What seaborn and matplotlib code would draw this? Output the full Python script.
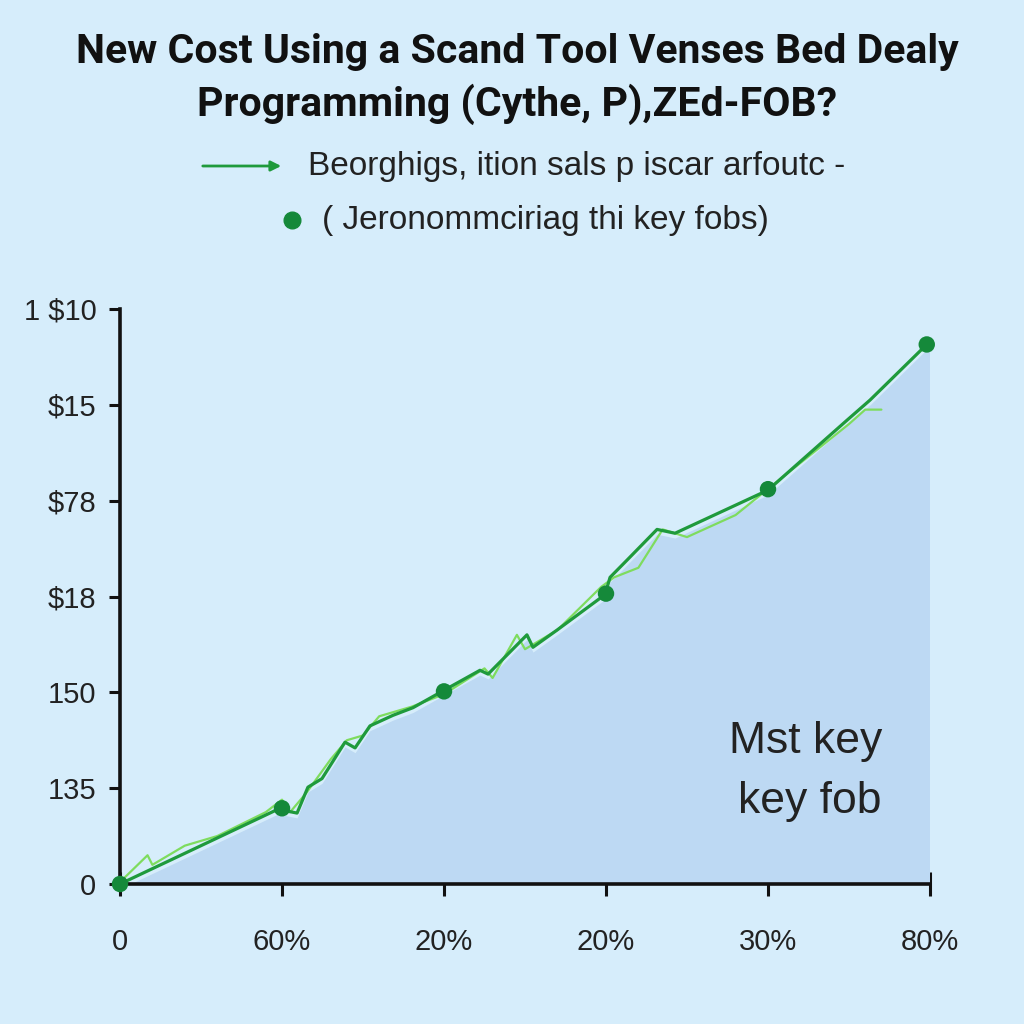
import numpy as np
import pandas as pd
import matplotlib
matplotlib.use('Agg')
import matplotlib.pyplot as plt
import seaborn as sns

# tick labels, as printed on the picture
x_labels = ['0', '60%', '20%', '20%', '30%', '80%']
y_labels = ['0', '135', '150', '$18', '$78', '$15', '1 $10']

# main cost line (in tick units)
line_x = [0.0, 0.975, 1.093, 1.16, 1.247, 1.389, 1.451, 1.543, 1.685, 1.809, 1.988,
          2.222, 2.272, 2.512, 2.549, 2.698, 2.994, 3.025, 3.13, 3.315, 3.426, 4.0,
          4.488, 4.63, 4.98]
line_y = [0.0, 0.78, 0.74, 1.01, 1.10, 1.48, 1.42, 1.65, 1.76, 1.84, 2.01,
          2.23, 2.19, 2.60, 2.47, 2.65, 3.02, 3.20, 3.38, 3.70, 3.66, 4.11,
          4.84, 5.05, 5.63]

# faint jagged trace around the main line
trace_x = [0.0, 0.17, 0.2, 0.4, 0.6, 0.9, 1.0, 1.05, 1.15, 1.3, 1.4, 1.5, 1.6, 1.8, 2.0,
           2.25, 2.3, 2.45, 2.5, 2.7, 2.97, 3.05, 3.2, 3.35, 3.5, 3.8, 4.02, 4.5, 4.6, 4.7]
trace_y = [0.02, 0.30, 0.20, 0.40, 0.50, 0.75, 0.88, 0.75, 0.95, 1.30, 1.50, 1.55, 1.75, 1.85, 1.98,
           2.25, 2.15, 2.60, 2.45, 2.65, 3.10, 3.20, 3.30, 3.70, 3.62, 3.85, 4.15, 4.80, 4.95, 4.95]

# key fob markers
key_x = [0, 1, 2, 3, 4, 4.98]
key_y = [0.0, 0.79, 2.01, 3.03, 4.12, 5.63]

title = 'New Cost Using a Scand Tool Venses Bed Dealy\nProgramming (Cythe, P),ZEd-FOB?'
legend1 = 'Beorghigs, ition sals p iscar arfoutc -'
legend2 = '( Jeronommciriag thi key fobs)'
note = ['Mst key', 'key fob']

bg = '#d6edfb'
fill_col = '#bdd9f3'
dark_green = '#1f9a3c'
dot_green = '#15893a'
light_green = '#7edc5e'

sns.set_theme(style='white')
plt.rcParams['font.family'] = ['Liberation Sans', 'DejaVu Sans']

fig = plt.figure(figsize=(10.24, 10.24), dpi=100, facecolor=bg)
ax = fig.add_axes([120/1024, 140/1024, 810/1024, 575/1024])
ax.set_facecolor(bg)

line_df = pd.DataFrame({'x': line_x, 'y': line_y})
trace_df = pd.DataFrame({'x': trace_x, 'y': trace_y})
key_df = pd.DataFrame({'x': key_x, 'y': key_y})

ax.fill_between(line_df['x'], 0, line_df['y'] - 0.05, color=fill_col, lw=0, zorder=1)
ax.fill_between([line_x[-1], 5], 0, [line_y[-1], line_y[-1]], color=fill_col, lw=0, zorder=1)
sns.lineplot(data=trace_df, x='x', y='y', ax=ax, color=light_green, lw=1.6,
             estimator=None, sort=False, zorder=2)
sns.lineplot(data=line_df, x='x', y='y', ax=ax, color=dark_green, lw=2.3,
             estimator=None, sort=False, zorder=3)
sns.scatterplot(data=key_df, x='x', y='y', ax=ax, color=dot_green, s=140,
                edgecolor='none', zorder=4, clip_on=False)

ax.set_xlim(0, 5)
ax.set_ylim(0, 6)
ax.set_xticks(range(len(x_labels)))
ax.set_xticklabels(x_labels)
ax.set_yticks(range(len(y_labels)))
ax.set_yticklabels(y_labels)
ax.set_xlabel('')
ax.set_ylabel('')
for s in ['top', 'right']:
    ax.spines[s].set_visible(False)
for s in ['left', 'bottom']:
    ax.spines[s].set_color('#111111')
    ax.spines[s].set_linewidth(2.6)
ax.tick_params(axis='x', bottom=True, direction='inout', length=17, width=2.2, color='#111111',
               labelsize=21, pad=23, labelcolor='#222222')
ax.tick_params(axis='y', left=True, direction='out', length=8, width=2.2, color='#111111',
               labelsize=21, pad=9, labelcolor='#222222')

ax.text(0.847, 0.247, note[0], transform=ax.transAxes, ha='center', va='center',
        fontsize=32, color='#222222')
ax.text(0.852, 0.143, note[1], transform=ax.transAxes, ha='center', va='center',
        fontsize=32, color='#222222')

fig.text(0.505, 0.923, title, ha='center', va='center', fontsize=29.5,
         fontweight='bold', family=['Roboto', 'DejaVu Sans'], color='#111111',
         linespacing=1.4)

# legend drawn at the top
fig.add_artist(matplotlib.patches.FancyArrowPatch((200/1024, 1 - 166/1024), (284/1024, 1 - 166/1024),
               transform=fig.transFigure, arrowstyle='-|>', mutation_scale=15,
               color=dark_green, lw=2))
fig.text(308/1024, 1 - 166/1024, legend1, ha='left', va='center', fontsize=24, color='#222222')
fig.add_artist(matplotlib.lines.Line2D([292/1024], [1 - 220/1024], transform=fig.transFigure,
               marker='o', markersize=12, color=dot_green, lw=0))
fig.text(322/1024, 1 - 220/1024, legend2, ha='left', va='center', fontsize=24, color='#222222')

fig.savefig('out.png', dpi=100, facecolor=bg)
